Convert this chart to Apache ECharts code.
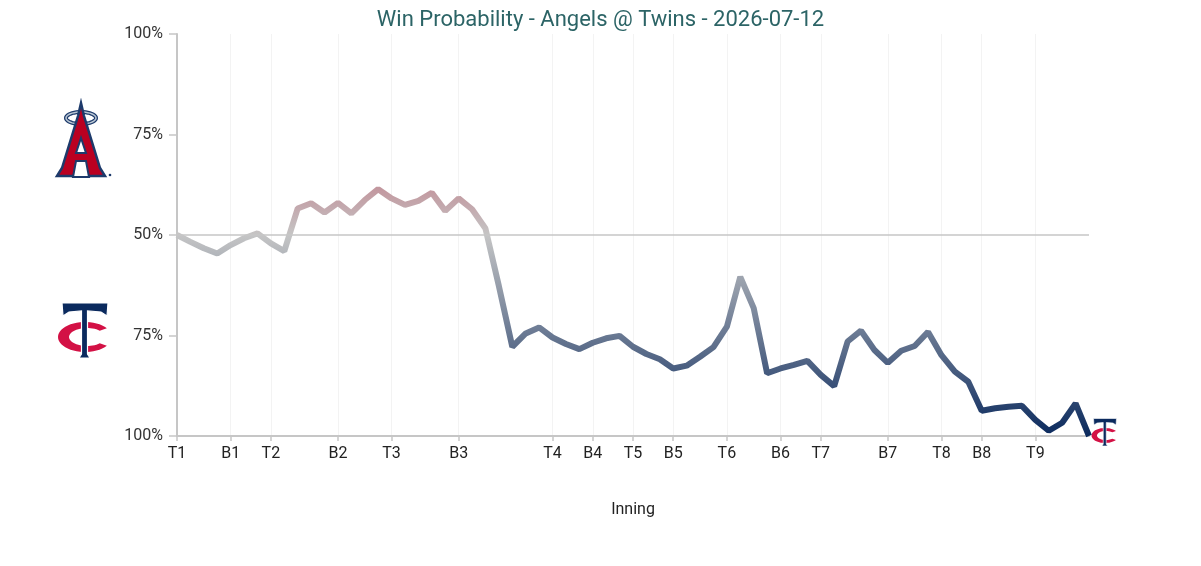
<!DOCTYPE html>
<html>
<head>
<meta charset="utf-8">
<title>Win Probability - Angels @ Twins</title>
<script src="https://cdn.jsdelivr.net/npm/echarts@6/dist/echarts.min.js"></script>
<style>
  html, body { margin: 0; padding: 0; background: #fff; }
  #chart { width: 1201px; height: 566px; }
</style>
</head>
<body>
<div id="chart"></div>
<script>
// win probability for the Angels (0 = Twins win, 100 = Angels win), one value per play
var winProb = [
  50, 48.3, 46.7, 45.4, 47.5, 49.2, 50.4, 47.9, 46.0, 56.6,
  57.9, 55.6, 58.0, 55.4, 58.7, 61.4, 59.1, 57.5, 58.5, 60.5,
  56.0, 59.1, 56.4, 51.6, 37.3, 22.2, 25.5, 27.0, 24.5, 22.9,
  21.6, 23.2, 24.3, 24.9, 22.2, 20.4, 19.1, 16.8, 17.5, 19.7,
  22.1, 27.2, 39.6, 31.8, 15.6, 16.8, 17.7, 18.7, 15.2, 12.4,
  23.5, 26.2, 21.4, 18.2, 21.2, 22.4, 25.9, 20.1, 16.0, 13.5,
  6.3, 6.9, 7.3, 7.5, 4.0, 1.3, 3.3, 8.1, 0
]
// play index where each half inning starts
var inningStart = [0, 4, 7, 12, 16, 21, 28, 31, 34, 37, 41, 45, 48, 53, 57, 60, 64]
var inningLabels = ['T1', 'B1', 'T2', 'B2', 'T3', 'B3', 'T4', 'B4', 'T5', 'B5', 'T6', 'B6', 'T7', 'B7', 'T8', 'B8', 'T9']
var yTicks = [0, 25, 50, 75, 100]

var plays = winProb.map(function (v, i) { return String(i + 1) })

var navy = '#0b2a5e'
var red = '#ba0021'
var twinsRed = '#d31145'

function isInning(idx) {
  return inningStart.indexOf(idx) >= 0
}

function ellipsePts(cx, cy, rx, ry, a0, a1, n) {
  var pts = []
  for (var k = 0; k <= n; k++) {
    var a = a0 + (a1 - a0) * k / n
    pts.push([cx + rx * Math.cos(a), cy + ry * Math.sin(a)])
  }
  return pts
}

// angels logo, drawn roughly
function angelsLogo(x, y, s) {
  return {
    type: 'group', x: x, y: y, scaleX: s, scaleY: s, silent: true,
    children: [
      { type: 'polygon', shape: { points: ellipsePts(0, -22, 15, 6, 0, Math.PI * 2, 40) },
        style: { fill: 'none', stroke: '#1d3a6b', lineWidth: 4 } },
      { type: 'polygon', shape: { points: ellipsePts(0, -22, 15, 6, 0, Math.PI * 2, 40) },
        style: { fill: 'none', stroke: '#b9c6d3', lineWidth: 1.5 } },
      { type: 'polygon', shape: { points: [[0, -37], [3, -24], [19, 28], [24, 36], [-24, 36], [-19, 28], [-3, -24]] },
        style: { fill: red, stroke: '#1d3a6b', lineWidth: 2.5 } },
      { type: 'polygon', shape: { points: [[0, -2], [5, 13], [-5, 13]] },
        style: { fill: '#fff', stroke: '#1d3a6b', lineWidth: 2 } },
      { type: 'polygon', shape: { points: [[-8, 37], [-5, 21], [5, 21], [8, 37]] },
        style: { fill: '#fff', stroke: '#1d3a6b', lineWidth: 2 } },
      { type: 'circle', shape: { cx: 29, cy: 35, r: 1.3 }, style: { fill: '#1d3a6b' } }
    ]
  }
}

// twins TC logo, drawn roughly
function twinsLogo(x, y, s) {
  var outer = ellipsePts(2, 7, 27, 15, Math.PI * 0.2, Math.PI * 1.8, 40)
  var inner = ellipsePts(4, 7, 18, 9, Math.PI * 1.75, Math.PI * 0.25, 40)
  return {
    type: 'group', x: x, y: y, scaleX: s, scaleY: s, silent: true,
    children: [
      { type: 'polygon', shape: { points: outer.concat(inner) }, style: { fill: twinsRed } },
      { type: 'polygon',
        shape: { points: [[-21, -27], [25, -27], [24, -14], [18, -18], [4.5, -19], [4.5, 24], [7, 28], [-4, 28], [-1.5, 24], [-1.5, -19], [-14, -18], [-20, -14]] },
        style: { fill: navy, stroke: '#fff', lineWidth: 1.2 } }
    ]
  }
}

var chart = echarts.init(document.getElementById('chart'), null, { renderer: 'canvas' })

var option = {
  backgroundColor: '#fff',
  animation: false,
  title: {
    text: 'Win Probability - Angels @ Twins - 2026-07-12',
    left: 'center',
    top: 9,
    padding: 0,
    textStyle: { fontFamily: 'Roboto', fontSize: 22, fontWeight: 'normal', color: '#2c6466' }
  },
  grid: { left: 177, right: 112, top: 34, bottom: 130 },
  visualMap: {
    show: false,
    type: 'continuous',
    dimension: 1,
    min: 0,
    max: 100,
    seriesIndex: 0,
    inRange: { color: [navy, '#c5c5c5', red] }
  },
  xAxis: {
    type: 'category',
    data: plays,
    boundaryGap: false,
    name: 'Inning',
    nameLocation: 'middle',
    nameGap: 66,
    nameTextStyle: { fontFamily: 'Roboto', fontSize: 16, color: '#222' },
    axisLine: { lineStyle: { color: '#c6c6c6', width: 2 } },
    axisTick: {
      show: true, length: 5,
      interval: function (idx) { return isInning(idx) },
      lineStyle: { color: '#c6c6c6', width: 1.5 }
    },
    axisLabel: {
      interval: function (idx) { return isInning(idx) },
      formatter: function (v, idx) {
        var k = inningStart.indexOf(idx)
        return k >= 0 ? inningLabels[k] : ''
      },
      margin: 10,
      fontFamily: 'Roboto', fontSize: 16, color: '#222'
    },
    splitLine: {
      show: true,
      interval: function (idx) { return isInning(idx) },
      lineStyle: { color: '#f3f3f3', width: 1 }
    }
  },
  yAxis: {
    type: 'value',
    min: yTicks[0],
    max: yTicks[yTicks.length - 1],
    interval: 25,
    axisLine: { show: true, lineStyle: { color: '#c6c6c6', width: 2 } },
    axisTick: { show: true, length: 8, lineStyle: { color: '#c6c6c6', width: 1.5 } },
    splitLine: { show: false },
    axisLabel: {
      margin: 14,
      fontFamily: 'Roboto', fontSize: 16, color: '#333',
      formatter: function (v) { return (v >= 50 ? v : 100 - v) + '%' }
    }
  },
  series: [{
    type: 'line',
    data: winProb,
    symbol: 'none',
    lineStyle: { width: 6 },
    markLine: {
      silent: true,
      symbol: 'none',
      label: { show: false },
      lineStyle: { color: '#c6c6c6', type: 'solid', width: 1.5 },
      data: [{ yAxis: 50 }]
    },
    z: 3
  }],
  graphic: {
    elements: [
      angelsLogo(81, 140, 1),
      twinsLogo(83, 330, 1),
      twinsLogo(1104, 432, 0.5)
    ]
  }
}

chart.setOption(option)
</script>
</body>
</html>
